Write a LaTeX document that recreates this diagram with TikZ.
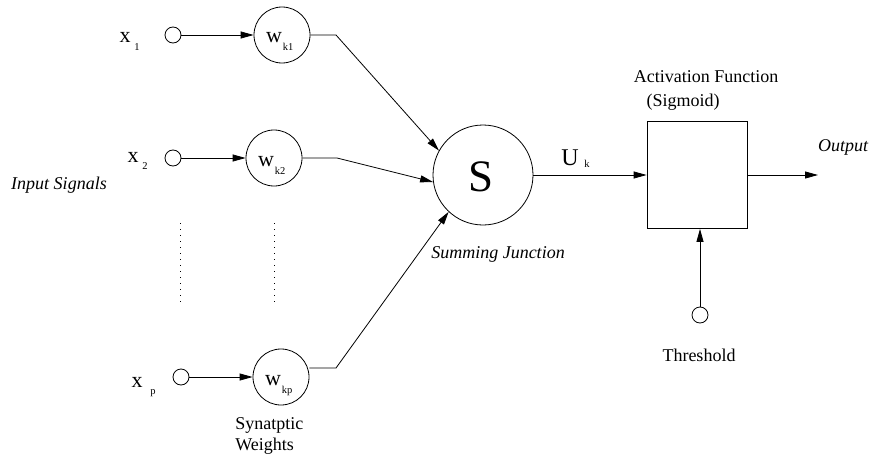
\documentclass[tikz,border=0pt]{standalone}
\usepackage{fontspec}
\setmainfont{Liberation Serif}
\usetikzlibrary{arrows.meta}
\begin{document}
\begin{tikzpicture}[x=1pt,y=-1pt,
  line width=0.8pt,
  tip/.style={-{Triangle[length=13pt,width=7pt]}},
  port/.style={circle,draw,minimum size=16pt,inner sep=0pt},
  weight/.style={circle,draw,minimum size=56pt,inner sep=0pt},
  txt/.style={inner sep=0pt,font=\fontsize{18}{20}\selectfont},
  itxt/.style={inner sep=0pt,font=\fontsize{18}{20}\selectfont\itshape},
  sym/.style={inner sep=0pt,anchor=base,font=\fontsize{22}{24}\selectfont},
  idx/.style={inner sep=0pt,anchor=base,font=\fontsize{10.5}{12}\selectfont},
  dots/.style={line width=1pt,dash pattern=on 1pt off 5pt},
]
\useasboundingbox (0,0) rectangle (870,460);

% input ports and synaptic weights
\node[port] (p1) at (173,35) {};
\node[port] (p2) at (173,158) {};
\node[port] (pp) at (181,377) {};
\node[weight] (w1) at (282,35) {};
\node[weight] (w2) at (274,158) {};
\node[weight] (wp) at (281,377) {};

% summing junction, activation box, threshold input
\node[circle,draw,minimum size=100pt,inner sep=0pt] (S) at (483,175) {};
\node[draw,minimum width=100pt,minimum height=107pt,inner sep=0pt] (act) at (697,175) {};
\node[port] (th) at (700,315) {};

% input labels
\node[sym] (x1) at (125,43) {x};
\node[idx] (x1i) at (137,51) {1};
\node[sym] (x2) at (133,162) {x};
\node[idx] (x2i) at (145,169) {2};
\node[sym] (xp) at (137,387) {x};
\node[idx] (xpi) at (153,394) {p};

% weight labels
\node[sym] (w1l) at (274,43) {w};
\node[idx] (w1i) at (288,51) {k1};
\node[sym] (w2l) at (266,166) {w};
\node[idx] (w2i) at (280,174) {k2};
\node[sym] (wpl) at (273,385) {w};
\node[idx] (wpi) at (287,393) {kp};

% summing symbol and its output
\node[inner sep=0pt,anchor=base,font=\fontsize{45}{50}\selectfont] (Sl) at (481,191) {S};
\node[inner sep=0pt,anchor=base,font=\fontsize{24}{26}\selectfont] (U) at (570,165) {U};
\node[idx] (Ui) at (587,167) {k};

% captions
\node[itxt] (insig) at (59,185) {Input Signals};
\node[itxt] (sumj) at (498,254) {Summing Junction};
\node[txt] (actf) at (706,77) {Activation Function};
\node[txt] (sigm) at (683,102) {(Sigmoid)};
\node[itxt] (outl) at (843,147) {Output};
\node[txt] (thl) at (699,355) {Threshold};
\node[txt,anchor=west] (syn) at (235,425) {Synatptic};
\node[txt,anchor=west] (wgt) at (235,446) {Weights};

% bend points and free ends
\coordinate (b1) at (336,35);
\coordinate (b2) at (337,158);
\coordinate (b3) at (336,368);
\coordinate (out) at (818,175);

% connectors
\draw[tip] (p1) -- (w1);
\draw[tip] (p2) -- (w2);
\draw[tip] (pp) -- (wp);
\draw[tip] (w1) -- (b1) -- (S.151);
\draw[tip] (w2) -- (b2) -- (S.188);
\draw[tip] (wp.east |- b3) -- (b3) -- (S.227);
\draw[tip] (S) -- (act);
\draw[tip] (act) -- (out);
\draw[tip] (th) -- (th |- act.south);

% omitted inputs
\coordinate (d1) at (180,223);
\coordinate (d2) at (180,305);
\coordinate (d3) at (274,223);
\coordinate (d4) at (274,305);
\draw[dots] (d1) -- (d2);
\draw[dots] (d3) -- (d4);
\end{tikzpicture}
\end{document}
